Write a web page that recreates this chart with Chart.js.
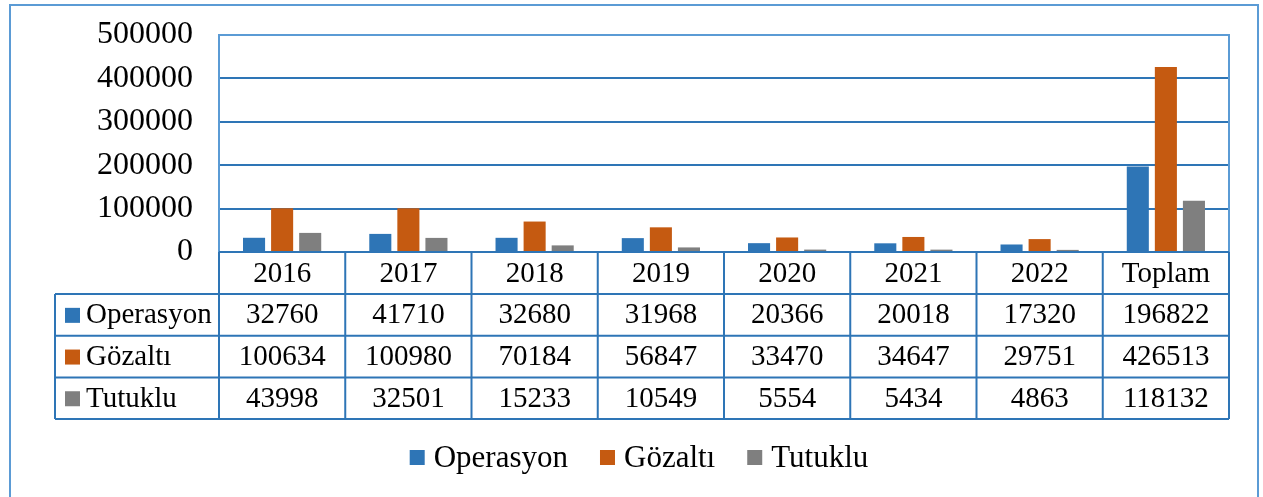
<!DOCTYPE html>
<html>
<head>
<meta charset="utf-8">
<script src="https://cdn.jsdelivr.net/npm/chart.js@4"></script>
<style>
  html, body { margin: 0; padding: 0; background: #fff; }
  #wrap { width: 1263px; height: 497px; position: relative; }
</style>
</head>
<body>
<div id="wrap"><canvas id="myChart" width="1263" height="497"></canvas></div>
<script>
// Daten
const kategorien = ['2016', '2017', '2018', '2019', '2020', '2021', '2022', 'Toplam'];
const operasyon = [32760, 41710, 32680, 31968, 20366, 20018, 17320, 196822];
const gozalti = [100634, 100980, 70184, 56847, 33470, 34647, 29751, 426513];
const tutuklu = [43998, 32501, 15233, 10549, 5554, 5434, 4863, 118132];
const yTicks = [0, 100000, 200000, 300000, 400000, 500000];

const seriesNames = ['Operasyon', 'Gözaltı', 'Tutuklu'];
const colors = ['#2E75B6', '#C55A11', '#7F7F7F'];
const fontFam = '"Liberation Serif", "Times New Roman", serif';
const lineBlue = '#2E75B6';
const frameBlue = '#5B9BD5';

// Tabelle, Legende + Rahmen zeichnen
const tablePlugin = {
  id: 'tablePlugin',
  beforeDraw(chart) {
    const c = chart.ctx;
    c.save();
    c.strokeStyle = frameBlue;
    c.lineWidth = 2;
    c.strokeRect(10, 5, 1248, 500);
    c.restore();
  },
  afterDraw(chart) {
    const c = chart.ctx;
    const area = chart.chartArea;
    const n = kategorien.length;
    const colW = (area.right - area.left) / n;
    const top = area.bottom;
    const catH = 42;
    const rowH = 41.7;
    const tableLeft = 55;
    const rows = [operasyon, gozalti, tutuklu];
    const bottom = top + catH + rowH * rows.length;

    c.save();
    // Rahmen Plotfläche
    c.strokeStyle = frameBlue;
    c.lineWidth = 2;
    c.beginPath();
    c.moveTo(area.left, area.bottom);
    c.lineTo(area.left, area.top);
    c.lineTo(area.right, area.top);
    c.lineTo(area.right, area.bottom);
    c.stroke();

    c.strokeStyle = lineBlue;
    c.lineWidth = 2;
    c.beginPath();
    // horizontale Linien
    c.moveTo(area.left, top);
    c.lineTo(area.right, top);
    for (let r = 0; r <= rows.length; r++) {
      const y = top + catH + r * rowH;
      c.moveTo(tableLeft, y);
      c.lineTo(area.right, y);
    }
    // vertikale Linien
    for (let i = 0; i <= n; i++) {
      const x = area.left + i * colW;
      c.moveTo(x, top);
      c.lineTo(x, bottom);
    }
    c.moveTo(tableLeft, top + catH);
    c.lineTo(tableLeft, bottom);
    c.stroke();

    // Texte
    c.fillStyle = '#000';
    c.font = '29px ' + fontFam;
    c.textBaseline = 'middle';
    c.textAlign = 'center';
    kategorien.forEach((k, i) => {
      c.fillText(k, area.left + (i + 0.5) * colW, top + catH / 2 + 1);
    });
    rows.forEach((vals, r) => {
      const yMid = top + catH + (r + 0.5) * rowH + 1;
      c.textAlign = 'center';
      c.fillStyle = '#000';
      vals.forEach((v, i) => {
        c.fillText(String(v), area.left + (i + 0.5) * colW, yMid);
      });
      c.fillStyle = colors[r];
      c.fillRect(65, yMid - 8, 15, 15);
      c.fillStyle = '#000';
      c.textAlign = 'left';
      c.fillText(seriesNames[r], 86, yMid);
    });

    // Legende unten
    c.font = '31px ' + fontFam;
    const box = 15, gapText = 9, gapItem = 32;
    const widths = seriesNames.map(s => box + gapText + c.measureText(s).width);
    const total = widths.reduce((a, b) => a + b, 0) + gapItem * (widths.length - 1);
    let lx = 639 - total / 2;
    const ly = 458;
    seriesNames.forEach((s, i) => {
      c.fillStyle = colors[i];
      c.fillRect(lx, ly - 8, box, box);
      c.fillStyle = '#000';
      c.textAlign = 'left';
      c.fillText(s, lx + box + gapText, ly + 1);
      lx += widths[i] + gapItem;
    });
    c.restore();
  }
};

const ctx = document.getElementById('myChart');

const chart = new Chart(ctx, {
  type: 'bar',
  data: {
    labels: kategorien,
    datasets: [
      { label: seriesNames[0], data: operasyon, backgroundColor: colors[0] },
      { label: seriesNames[1], data: gozalti, backgroundColor: colors[1] },
      { label: seriesNames[2], data: tutuklu, backgroundColor: colors[2] }
    ]
  },
  options: {
    responsive: false,
    animation: false,
    datasets: {
      bar: { categoryPercentage: 0.667, barPercentage: 0.786 }
    },
    layout: { padding: { left: 0, right: 34, top: 35, bottom: 78 } },
    scales: {
      x: {
        ticks: { display: false },
        grid: { display: false },
        border: { display: false },
        afterFit(scale) { scale.height = 167; }
      },
      y: {
        min: 0,
        max: 500000,
        afterBuildTicks(scale) { scale.ticks = yTicks.map(v => ({ value: v })); },
        ticks: {
          color: '#000',
          padding: 26,
          autoSkip: false,
          callback: v => String(v),
          font: { family: fontFam, size: 32 }
        },
        grid: { color: lineBlue, lineWidth: 2, drawTicks: false },
        border: { display: false },
        afterFit(scale) {
          scale.width = 219;
          scale.paddingTop = 0;
          scale.paddingBottom = 0;
        }
      }
    },
    plugins: {
      tooltip: { enabled: false },
      legend: { display: false }
    }
  },
  plugins: [tablePlugin]
});
</script>
</body>
</html>
